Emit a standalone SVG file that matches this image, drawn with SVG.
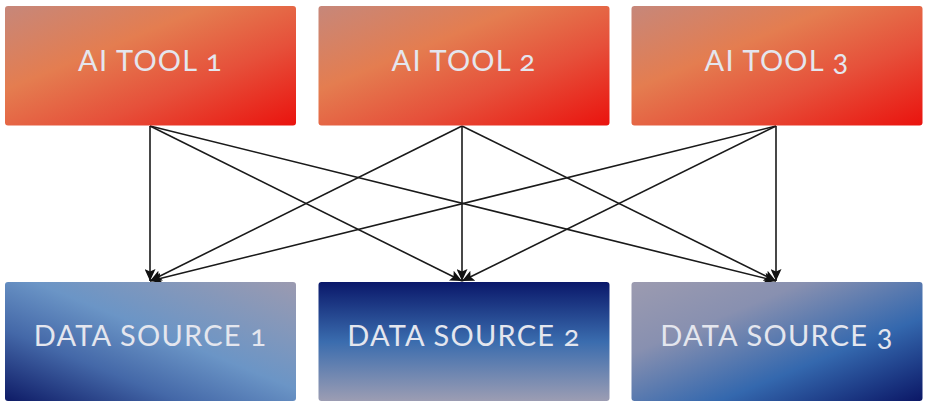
<svg xmlns="http://www.w3.org/2000/svg" width="928" height="408" viewBox="0 0 928 408">
<style>
.lbl{font-family:Lato,"Open Sans","Liberation Sans",sans-serif;font-size:29px;fill:#e4e6ee;text-anchor:middle;font-variant-numeric:oldstyle-nums;font-feature-settings:"onum" 1;letter-spacing:1.2px}
.edge{stroke:#1a1a1a;stroke-width:1.6;fill:none;marker-end:url(#ah)}
</style>
<defs>
<linearGradient id="gTop" x1="0" y1="0" x2="1" y2="1">
<stop offset="0" stop-color="#c6877a"/>
<stop offset="0.35" stop-color="#e47d50"/>
<stop offset="0.65" stop-color="#e6503a"/>
<stop offset="1" stop-color="#ea130e"/>
</linearGradient>
<linearGradient id="gD1" x1="0" y1="1" x2="1" y2="0">
<stop offset="0" stop-color="#0e1b66"/>
<stop offset="0.3" stop-color="#4468a8"/>
<stop offset="0.55" stop-color="#6b95c6"/>
<stop offset="1" stop-color="#9b9ab0"/>
</linearGradient>
<linearGradient id="gD2" x1="0" y1="0" x2="0" y2="1">
<stop offset="0" stop-color="#0a186a"/>
<stop offset="0.5" stop-color="#3a6cae"/>
<stop offset="1" stop-color="#9c9db3"/>
</linearGradient>
<linearGradient id="gD3" x1="0" y1="0" x2="1" y2="1">
<stop offset="0" stop-color="#9c9bb0"/>
<stop offset="0.3" stop-color="#8890b0"/>
<stop offset="0.65" stop-color="#3468ae"/>
<stop offset="1" stop-color="#0b1766"/>
</linearGradient>
<marker id="ah" markerWidth="13" markerHeight="11" refX="12" refY="5.5" orient="auto" markerUnits="userSpaceOnUse">
<path d="M0,0 L12,5.5 L0,11 L2.5,5.5 Z" fill="#111"/>
</marker>
</defs>
<g id="connectors">
<line class="edge" x1="150" y1="126" x2="150" y2="281"/>
<line class="edge" x1="150" y1="126" x2="462" y2="281"/>
<line class="edge" x1="150" y1="126" x2="776" y2="281"/>
<line class="edge" x1="462" y1="126" x2="150" y2="281"/>
<line class="edge" x1="462" y1="126" x2="462" y2="281"/>
<line class="edge" x1="462" y1="126" x2="776" y2="281"/>
<line class="edge" x1="776" y1="126" x2="150" y2="281"/>
<line class="edge" x1="776" y1="126" x2="462" y2="281"/>
<line class="edge" x1="776" y1="126" x2="776" y2="281"/>
</g>
<g id="tool1"><rect x="5" y="6" width="291" height="119.5" rx="3" fill="url(#gTop)"/><text class="lbl" x="150.5" y="71">AI TOOL 1</text></g>
<g id="tool2"><rect x="318.5" y="6" width="291" height="119.5" rx="3" fill="url(#gTop)"/><text class="lbl" x="464" y="71">AI TOOL 2</text></g>
<g id="tool3"><rect x="631.5" y="6" width="291" height="119.5" rx="3" fill="url(#gTop)"/><text class="lbl" x="777" y="71">AI TOOL 3</text></g>
<g id="ds1"><rect x="5" y="282" width="291" height="119" rx="3" fill="url(#gD1)"/><text class="lbl" x="150.5" y="346">DATA SOURCE 1</text></g>
<g id="ds2"><rect x="318.5" y="282" width="291" height="119" rx="3" fill="url(#gD2)"/><text class="lbl" x="464" y="346">DATA SOURCE 2</text></g>
<g id="ds3"><rect x="631.5" y="282" width="291" height="119" rx="3" fill="url(#gD3)"/><text class="lbl" x="777" y="346">DATA SOURCE 3</text></g>
</svg>
